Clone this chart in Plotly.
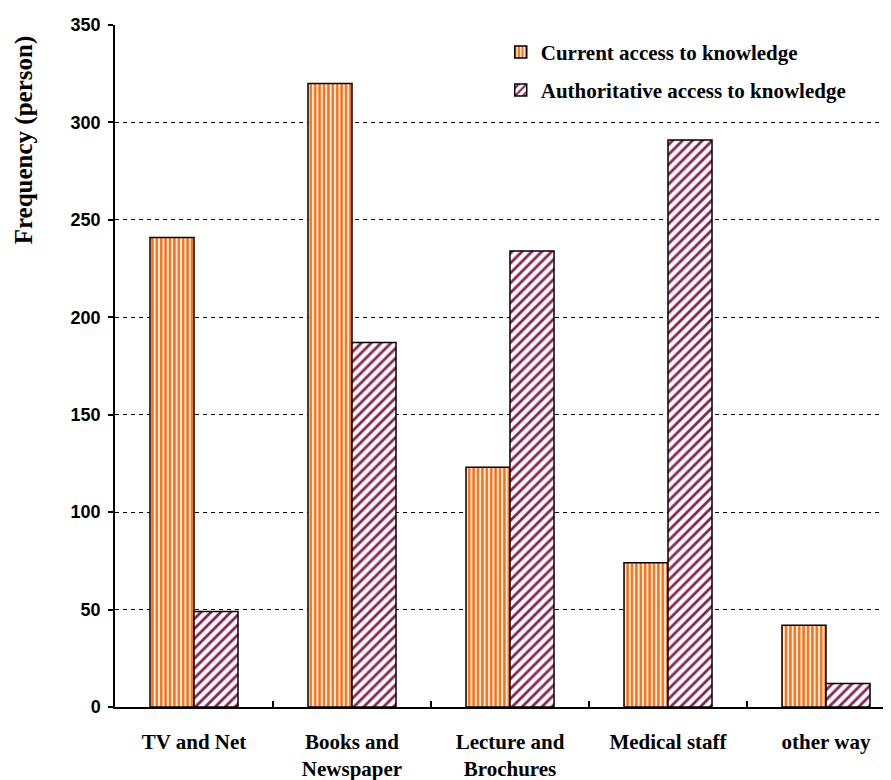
import plotly.graph_objects as go

categories = ["TV and Net", "Books and<br>Newspaper", "Lecture and<br>Brochures", "Medical staff", "other way"]
current_access = [241, 320, 123, 74, 42]
authoritative_access = [49, 187, 234, 291, 12]
series_names = ["Current access to knowledge", "Authoritative access to knowledge"]
y_ticks = [0, 50, 100, 150, 200, 250, 300, 350]
y_title = "Frequency (person)"

W, H = 891, 780
L, R, T, B = 107, 0, 16.5, 81

fig = go.Figure()
fig.add_trace(go.Bar(
    x=categories, y=current_access, name=series_names[0],
    marker=dict(color="white", line=dict(color="black", width=1.5),
                pattern=dict(shape="|", fgcolor="#FF6A10", bgcolor="#FFF3E6",
                             size=4.4, solidity=0.55, fillmode="replace")),
    legend="legend", showlegend=True,
))
fig.add_trace(go.Bar(
    x=categories, y=authoritative_access, name=series_names[1],
    marker=dict(color="white", line=dict(color="black", width=1.5),
                pattern=dict(shape="/", fgcolor="#8B2252", bgcolor="white",
                             size=7, solidity=0.4, fillmode="replace")),
    legend="legend2", showlegend=True,
))

serif = "Liberation Serif, Times New Roman, serif"
sans = "Liberation Sans, Arial, sans-serif"
legend_font = dict(family=serif, size=21, color="black", weight="bold")

fig.update_layout(
    width=W, height=H,
    margin=dict(l=L, r=R, t=T, b=B, pad=0, autoexpand=False),
    paper_bgcolor="white", plot_bgcolor="white",
    barmode="group", bargap=0.443, bargroupgap=0,
    font=dict(family=serif, color="black"),
    showlegend=True,
    legend=dict(x=0.492, y=0.960, xanchor="left", yanchor="middle", visible=True,
                font=legend_font, bgcolor="rgba(0,0,0,0)", borderwidth=0),
    legend2=dict(x=0.492, y=0.904, xanchor="left", yanchor="middle", visible=True,
                 font=legend_font, bgcolor="rgba(0,0,0,0)", borderwidth=0),
    xaxis=dict(
        range=[-0.5, 4.462], showline=True, linecolor="black", linewidth=1.5,
        ticks="inside", tickson="boundaries", ticklen=6, tickcolor="black", tickwidth=1.5,
        tickfont=dict(family=serif, size=21, color="black", weight="bold"),
        ticklabelstandoff=15,
        showgrid=False, zeroline=False,
    ),
    yaxis=dict(
        range=[0, 350], tickvals=y_ticks, showline=True, linecolor="black", linewidth=1.5,
        ticks="outside", ticklen=5, tickcolor="black", tickwidth=1.5,
        tickfont=dict(family=sans, size=18, color="black", weight="bold"),
        ticklabelstandoff=4,
        showgrid=True, gridcolor="black", gridwidth=1, griddash="4px,4px",
        zeroline=False,
    ),
    annotations=[dict(
        text=y_title, textangle=-90, xref="paper", yref="paper",
        x=-0.116, y=0.831, xanchor="center", yanchor="middle", showarrow=False,
        font=dict(family=serif, size=25, color="black", weight="bold"),
    )],
)

fig.write_html("out.html")
